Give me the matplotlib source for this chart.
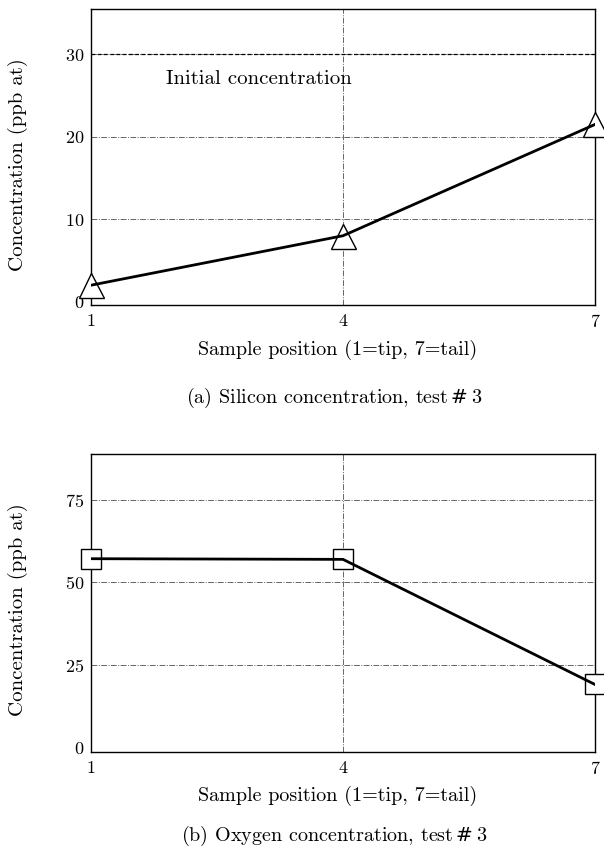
import matplotlib
matplotlib.use("Agg")
import matplotlib.pyplot as plt

# Данные
positions = [1, 4, 7]
silicon = [2.0, 8.0, 21.5]
oxygen = [57.2, 57.0, 19.0]
initial_si = 30
pos_ticks = [1, 4, 7]
si_ticks = [0, 10, 20, 30]
ox_ticks = [0, 25, 50, 75]

plt.rcParams['font.family'] = ['cmr10', 'DejaVu Serif']
plt.rcParams['axes.formatter.use_mathtext'] = True

fig = plt.figure(figsize=(6.04, 8.5), dpi=100)
W, H = 604, 850


def make_axes(left, top, right, bottom):
    return fig.add_axes([left / W, 1 - bottom / H, (right - left) / W, (bottom - top) / H])


def style(ax, yticks, ylim):
    ax.set_xlim(1, 7)
    ax.set_ylim(*ylim)
    ax.set_xticks(pos_ticks)
    ax.set_yticks(yticks)
    ax.tick_params(length=0, labelsize=13)
    ax.tick_params(axis='y', pad=5)
    ax.tick_params(axis='x', pad=6)
    for s in ax.spines.values():
        s.set_linewidth(1.0)
    for y in yticks[1:]:
        ax.axhline(y, color='#666666', lw=0.7, ls=(0, (6, 1.5, 1, 1.5)), zorder=1)
    ax.axvline(4, color='#666666', lw=0.7, ls=(0, (6, 1.5, 1, 1.5)), zorder=1)


def labels(xlab_y, ylab_y, caption_y, caption):
    fig.text(338 / W, 1 - xlab_y / H, "Sample position (1=tip, 7=tail)",
             ha='center', va='center', fontsize=14.5)
    fig.text(18 / W, 1 - ylab_y / H, "Concentration (ppb at)", rotation=90,
             ha='center', va='center', fontsize=15)
    fig.text(334 / W, 1 - caption_y / H, caption, ha='center', va='center', fontsize=14.5)


# (a) кремний
ax1 = make_axes(91, 9, 595, 305)
style(ax1, si_ticks, (-0.4, 35.5))
ax1.axhline(initial_si, color='black', lw=0.9, ls=(0, (3, 2)), zorder=2)
ax1.text(1.89, 27, "Initial concentration", fontsize=15, va='center', ha='left')
ax1.plot(positions, silicon, ls='none', marker='^', ms=18, mfc='white', mec='black',
         mew=1.0, clip_on=False, zorder=4)
ax1.plot(positions, silicon, color='black', lw=2, zorder=5)
labels(350, 165, 398, "(a) Silicon concentration, test$\\,\\#\\,$3")

# (b) кислород
ax2 = make_axes(91, 454, 595, 752)
style(ax2, ox_ticks, (-1.5, 89))
ax2.plot(positions, oxygen, ls='none', marker='s', ms=15, mfc='white', mec='black',
         mew=1.0, clip_on=False, zorder=4)
ax2.plot(positions, oxygen, color='black', lw=2, zorder=5)
labels(796, 610, 836, "(b) Oxygen concentration, test$\\,\\#\\,$3")

fig.savefig("out.png", dpi=100)
